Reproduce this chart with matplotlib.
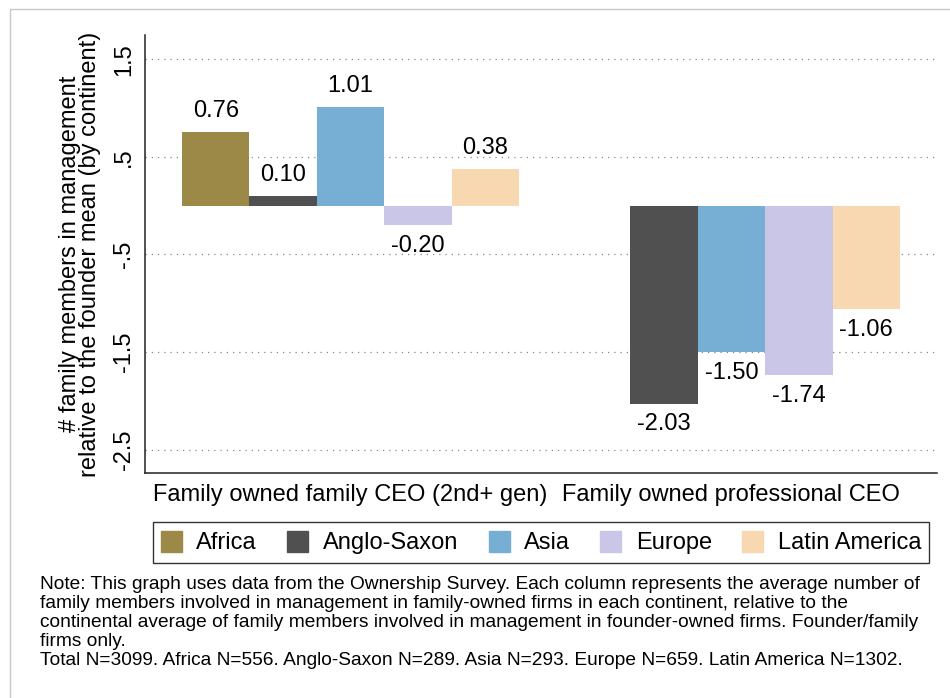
import numpy as np
import matplotlib
matplotlib.use("Agg")
from matplotlib import pyplot as plt
from matplotlib.patches import Patch, Rectangle

plt.rcParams['font.family'] = ['Liberation Sans', 'DejaVu Sans']

groups = ["Family owned family CEO (2nd+ gen)", "Family owned professional CEO"]
continents = ["Africa", "Anglo-Saxon", "Asia", "Europe", "Latin America"]
africa = [0.76, np.nan]
anglo = [0.10, -2.03]
asia = [1.01, -1.50]
europe = [-0.20, -1.74]
latin = [0.38, -1.06]
colors = ["#9c8847", "#505050", "#77afd4", "#cac6e8", "#f7d8b0"]
yticks = [1.5, 0.5, -0.5, -1.5, -2.5]
yticklabels = ["1.5", ".5", "-.5", "-1.5", "-2.5"]

series = [africa, anglo, asia, europe, latin]
FS = 17

fig = plt.figure(figsize=(9.5, 6.98), dpi=100)
ax = fig.add_axes([145/950, 1 - 473/698, (937-145)/950, (473-35)/698])

group_start = [0, 5.65]
for i, vals in enumerate(series):
    for g, v in enumerate(vals):
        if np.isnan(v):
            continue
        x = group_start[g] + i + 0.5
        ax.bar(x, v, width=1.0, color=colors[i], zorder=2)
        if v >= 0:
            ax.annotate("%.2f" % v, (x, v), xytext=(0, 7), textcoords="offset points",
                        ha="center", va="bottom", fontsize=FS)
        else:
            ax.annotate("%.2f" % v, (x, v), xytext=(0, -7), textcoords="offset points",
                        ha="center", va="top", fontsize=FS)

ax.set_xlim(-0.55, 11.2)
ax.set_ylim(-2.74, 1.75)
ax.set_yticks(yticks)
ax.set_yticklabels(yticklabels, rotation=90, va="center", fontsize=FS)
ax.set_xticks([2.5, 8.15])
ax.set_xticklabels(groups, fontsize=FS)
ax.tick_params(axis="both", length=0)
ax.tick_params(axis="y", pad=7)
ax.tick_params(axis="x", pad=8)
for y in yticks:
    ax.axhline(y, color="#888888", linewidth=0.9, linestyle=(0, (1, 4)), zorder=1)
for s in ["top", "right"]:
    ax.spines[s].set_visible(False)
for s in ["left", "bottom"]:
    ax.spines[s].set_linewidth(1.1)
    ax.spines[s].set_color("#222222")
ax.set_ylabel("# family members in management\nrelative to the founder mean (by continent)",
              fontsize=FS, linespacing=0.85, labelpad=9)

handles = [Patch(facecolor=c, edgecolor=c) for c in colors]
leg = fig.legend(handles, continents, loc="center", bbox_to_anchor=(541/950, 1 - 542.5/698),
                 ncol=5, fontsize=FS, frameon=True, fancybox=False, edgecolor="black",
                 handlelength=0.89, handleheight=1.02, handletextpad=0.6, columnspacing=1.3,
                 borderpad=0.35, borderaxespad=0)
leg.get_frame().set_linewidth(1.0)

note = ("Note: This graph uses data from the Ownership Survey. Each column represents the average number of\n"
        "family members involved in management in family-owned firms in each continent, relative to the\n"
        "continental average of family members involved in management in founder-owned firms. Founder/family\n"
        "firms only.\n"
        "Total N=3099. Africa N=556. Anglo-Saxon N=289. Asia N=293. Europe N=659. Latin America N=1302.")
fig.text(40/950, 1 - 576/698, note, ha="left", va="top", fontsize=13.8, linespacing=1.15)

fig.patches.append(Rectangle((10/950, -0.1), 1.1, 1.1 - 9/698, transform=fig.transFigure,
                             fill=False, edgecolor="#c8c8c8", linewidth=1.0))

fig.savefig("out.png", dpi=100)
